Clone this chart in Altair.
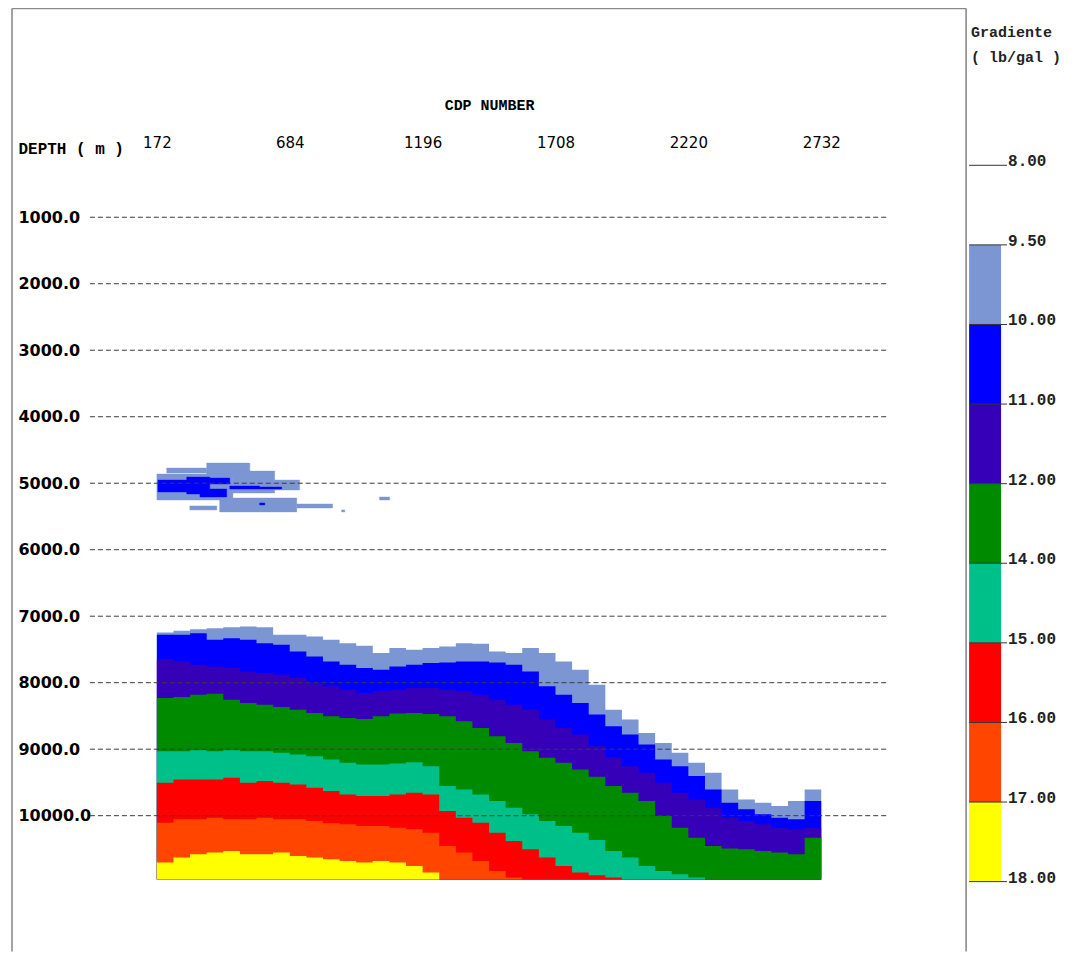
import altair as alt
import pandas as pd

# ---------------- data ----------------
cdp_start = [172, 236, 300, 364, 428, 492, 556, 620, 684, 748, 812, 876, 940, 1004,
             1068, 1132, 1196, 1260, 1324, 1388, 1452, 1516, 1580, 1644, 1708, 1772,
             1836, 1900, 1964, 2028, 2092, 2156, 2220, 2284, 2348, 2412, 2476, 2540,
             2604, 2668]
cdp_end = 2732
base_depth = 10960

# depth (m) of the top of each gradient band, one value per CDP column
top_lightblue = [7245, 7220, 7195, 7180, 7165, 7155, 7165, 7280, 7280, 7305, 7355, 7405,
                 7445, 7555, 7480, 7505, 7480, 7455, 7405, 7415, 7530, 7555, 7480, 7555,
                 7680, 7805, 8030, 8405, 8555, 8755, 8905, 9055, 9205, 9355, 9605, 9755,
                 9805, 9855, 9780, 9605]
top_blue = [7280, 7280, 7255, 7355, 7330, 7355, 7405, 7430, 7530, 7605, 7680, 7730,
            7780, 7805, 7755, 7730, 7705, 7695, 7680, 7680, 7695, 7730, 7830, 8055,
            8180, 8305, 8480, 8655, 8780, 8930, 9155, 9255, 9405, 9605, 9805, 9905,
            9980, 10030, 10055, 9780]
top_purple = [7645, 7680, 7730, 7755, 7780, 7830, 7855, 7880, 7930, 8005, 8055, 8105,
              8155, 8130, 8105, 8080, 8080, 8105, 8130, 8180, 8255, 8330, 8405, 8555,
              8680, 8780, 8955, 9130, 9255, 9355, 9505, 9655, 9755, 9880, 10030, 10080,
              10130, 10180, 10205, 10180]
top_green = [8230, 8215, 8180, 8165, 8255, 8305, 8330, 8365, 8405, 8455, 8505, 8530,
             8545, 8505, 8465, 8455, 8470, 8505, 8580, 8680, 8805, 8905, 9030, 9130,
             9205, 9305, 9415, 9555, 9655, 9780, 10005, 10180, 10330, 10455, 10495, 10505,
             10530, 10555, 10580, 10330]
top_teal = [9030, 9030, 9015, 9030, 9015, 9030, 9030, 9055, 9080, 9105, 9155, 9205,
            9230, 9230, 9215, 9195, 9255, 9555, 9605, 9680, 9780, 9880, 9980, 10080,
            10155, 10255, 10365, 10530, 10630, 10755, 10830, 10880, 10930, 10960, 10960, 10960,
            10960, 10960, 10960, 10960]
top_red = [9505, 9455, 9455, 9455, 9430, 9505, 9480, 9505, 9530, 9580, 9630, 9680,
           9705, 9705, 9680, 9655, 9680, 9930, 10030, 10105, 10255, 10380, 10505, 10630,
           10755, 10855, 10895, 10930, 10960, 10960, 10960, 10960, 10960, 10960, 10960, 10960,
           10960, 10960, 10960, 10960]
top_orange = [10105, 10055, 10055, 10030, 10055, 10055, 10030, 10055, 10055, 10080, 10115, 10130,
              10155, 10155, 10180, 10205, 10255, 10455, 10555, 10680, 10830, 10930, 10960, 10960,
              10960, 10960, 10960, 10960, 10960, 10960, 10960, 10960, 10960, 10960, 10960, 10960,
              10960, 10960, 10960, 10960]
top_yellow = [10705, 10630, 10580, 10555, 10530, 10580, 10580, 10555, 10605, 10630, 10655, 10680,
              10705, 10680, 10705, 10755, 10855, 10960, 10960, 10960, 10960, 10960, 10960, 10960,
              10960, 10960, 10960, 10960, 10960, 10960, 10960, 10960, 10960, 10960, 10960, 10960,
              10960, 10960, 10960, 10960]

band_names = ["9.50-10.00", "10.00-11.00", "11.00-12.00", "12.00-14.00",
              "14.00-15.00", "15.00-16.00", "16.00-17.00", "17.00-18.00"]
band_colors = ["#7b96d2", "#0000ff", "#3600b8", "#008a00",
               "#00c08a", "#ff0000", "#ff4500", "#ffff00"]

# shallow anomaly near 5000 m
patch_band = ["9.50-10.00"] * 10 + ["10.00-11.00"] * 7
patch_c0 = [210, 364, 172, 465, 626, 299, 414, 711, 884, 1030,
            176, 287, 376, 338, 453, 568, 568]
patch_c1 = [364, 530, 465, 626, 722, 403, 711, 849, 896, 1069,
            299, 376, 453, 441, 568, 653, 588]
patch_d0 = [4772, 4697, 4862, 4817, 4952, 5342, 5222, 5312, 5402, 5207,
            4952, 4907, 4922, 5087, 5042, 5057, 5297]
patch_d1 = [4847, 4862, 5252, 5147, 5102, 5402, 5432, 5372, 5432, 5252,
            5132, 5162, 5012, 5207, 5087, 5087, 5327]

x_ticks = [172, 684, 1196, 1708, 2220, 2732]
y_ticks = [1000, 2000, 3000, 4000, 5000, 6000, 7000, 8000, 9000, 10000]

legend_labels = ["8.00", "9.50", "10.00", "11.00", "12.00", "14.00",
                 "15.00", "16.00", "17.00", "18.00"]
legend_title = "Gradiente\n( lb/gal )"

# ---------------- tables ----------------
tops = [top_lightblue, top_blue, top_purple, top_green,
        top_teal, top_red, top_orange, top_yellow]
edges = cdp_start + [cdp_end]
band_tables = []
for k, name in enumerate(band_names):
    vals = tops[k] + [tops[k][-1]]
    band_tables.append(pd.DataFrame(dict(cdp=edges, top=vals,
                                         base=[base_depth] * len(edges))))

patch_df = pd.DataFrame(dict(band=patch_band, c0=patch_c0, c1=patch_c1,
                             d0=patch_d0, d1=patch_d1))
grid_df = pd.DataFrame(dict(d=y_ticks))
lab_df = pd.DataFrame(dict(i=list(range(len(legend_labels))), label=legend_labels))
leg_df = pd.DataFrame(dict(band=band_names,
                           i0=list(range(1, len(band_names) + 1)),
                           i1=list(range(2, len(band_names) + 2))))
title_df = pd.DataFrame(dict(t=[legend_title]))

# ---------------- scales / axes ----------------
W, H = 955, 944
xsc = alt.Scale(domain=[172, 2732], range=[145, 810])
ysc = alt.Scale(domain=[1000, 10000], range=[209, 808])
lsc = alt.Scale(domain=[0, 9], range=[157, 874])
csc = alt.Scale(domain=band_names, range=band_colors)

x_axis = alt.Axis(orient="top", values=x_ticks, format="d", offset=-134, tickSize=0,
                  labelPadding=0, domain=False, grid=False, ticks=False,
                  labelBaseline="middle", labelFont="DejaVu Sans", labelFontSize=15,
                  labelColor="black", labelFlush=False, labelOverlap=False,
                  title="CDP NUMBER", titleFont="Liberation Mono", titleFontSize=15,
                  titleFontWeight="bold", titleColor="black", titleY=-38,
                  titleBaseline="middle")
y_axis = alt.Axis(orient="left", values=y_ticks, format=".1f", offset=-6, tickSize=0,
                  labelPadding=0, labelAlign="left", domain=False, grid=False, ticks=False,
                  labelFont="DejaVu Sans", labelFontSize=16, labelFontWeight="bold",
                  labelColor="black", labelOverlap=False, labelFlush=False,
                  title="DEPTH ( m )", titleAngle=0, titleX=0, titleY=140,
                  titleAlign="left", titleBaseline="middle", titleFont="Liberation Mono",
                  titleFontSize=16, titleFontWeight="bold", titleColor="black")

# ---------------- layers ----------------
band_layers = []
for k, tbl in enumerate(band_tables):
    band_layers.append(
        alt.Chart(tbl).mark_area(interpolate="step-after", color=band_colors[k],
                                 strokeWidth=0).encode(
            x=alt.X("cdp:Q", scale=xsc, axis=x_axis),
            y=alt.Y("top:Q", scale=ysc, axis=y_axis if k == 0 else None),
            y2="base",
        )
    )

patches = alt.Chart(patch_df).mark_rect(strokeWidth=0.4).encode(
    x=alt.X("c0:Q", scale=xsc, axis=x_axis),
    x2="c1",
    y=alt.Y("d0:Q", scale=ysc, axis=None),
    y2="d1",
    color=alt.Color("band:N", scale=csc, legend=None),
    stroke=alt.Stroke("band:N", scale=csc, legend=None),
)

grid = alt.Chart(grid_df).mark_rule(color="#3a3a3a", strokeDash=[5, 3], strokeWidth=1).encode(
    y=alt.Y("d:Q", scale=ysc, axis=None),
    x=alt.value(78),
    x2=alt.value(875),
)

frame_style = dict(color="#8a8a8a", strokeWidth=1.6)
frame_left = alt.Chart(title_df).mark_rule(**frame_style).encode(
    x=alt.value(0), y=alt.value(0), y2=alt.value(H))
frame_top = alt.Chart(title_df).mark_rule(**frame_style).encode(
    x=alt.value(0), x2=alt.value(W), y=alt.value(0))
frame_right = alt.Chart(title_df).mark_rule(**frame_style).encode(
    x=alt.value(W), y=alt.value(0), y2=alt.value(H))

leg_bar = alt.Chart(leg_df).mark_rect().encode(
    x=alt.value(958), x2=alt.value(990),
    y=alt.Y("i0:Q", scale=lsc, axis=None), y2="i1",
    color=alt.Color("band:N", scale=csc, legend=None),
)
leg_ticks = alt.Chart(lab_df).mark_rule(color="#333333", strokeWidth=1).encode(
    x=alt.value(958), x2=alt.value(996),
    y=alt.Y("i:Q", scale=lsc, axis=None),
)
leg_text = alt.Chart(lab_df).mark_text(
    align="left", baseline="middle", dy=-4, font="Liberation Mono",
    fontSize=16, fontWeight="bold", color="#222222").encode(
    x=alt.value(997),
    y=alt.Y("i:Q", scale=lsc, axis=None),
    text="label:N",
)
leg_title = alt.Chart(title_df).mark_text(
    align="left", baseline="top", lineBreak="\n", lineHeight=25,
    font="Liberation Mono", fontSize=15, fontWeight="bold", color="#222222").encode(
    x=alt.value(960), y=alt.value(17), text="t:N")

chart = alt.layer(
    *band_layers, patches, grid, frame_left, frame_top, frame_right,
    leg_bar, leg_ticks, leg_text, leg_title,
).resolve_scale(y="independent").properties(
    width=W, height=H,
    autosize=alt.AutoSizeParams(type="none"),
    padding={"left": 4, "top": 0, "right": 110, "bottom": 0},
    background="white",
).configure_view(stroke=None)

chart.save("out.html", embed_options={"renderer": "svg", "actions": False})
